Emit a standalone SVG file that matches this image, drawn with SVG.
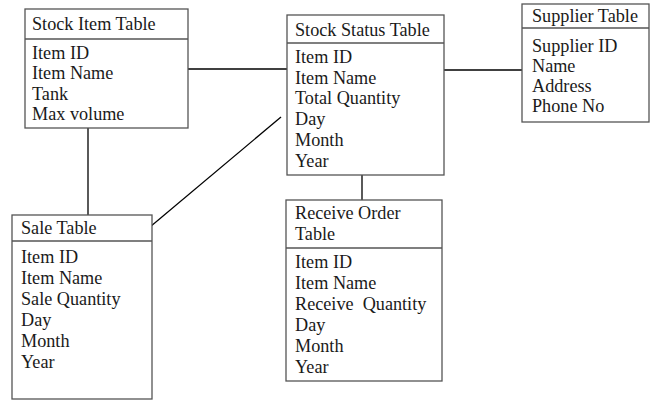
<svg xmlns="http://www.w3.org/2000/svg" width="665" height="400" viewBox="0 0 665 400">
<style>
.box{fill:#fff;stroke:#555;stroke-width:1.3}
.div{stroke:#555;stroke-width:1.3}
.t{font-family:"Liberation Serif","Times New Roman",serif;font-size:18.2px;fill:#1a1a1a}
.c{stroke:#000;stroke-width:1.3;fill:none}
</style>
<rect width="665" height="400" fill="#fff"/>
<g id="connectors">
<line class="c" x1="182" y1="69" x2="288" y2="69"/>
<line class="c" x1="88" y1="123" x2="88" y2="215"/>
<line class="c" x1="144" y1="232" x2="281" y2="117"/>
<line class="c" x1="437" y1="70" x2="523" y2="70"/>
<line class="c" x1="362" y1="169" x2="362" y2="200"/>
</g>
<g id="stock-item-table">
<rect class="box" x="25" y="9" width="163" height="119"/>
<line class="div" x1="25" y1="39" x2="188" y2="39"/>
<text class="t" x="32" y="30">Stock Item Table</text>
<text class="t" x="32" y="59">Item ID</text>
<text class="t" x="32" y="79">Item Name</text>
<text class="t" x="32" y="100">Tank</text>
<text class="t" x="32" y="120">Max volume</text>
</g>
<g id="stock-status-table">
<rect class="box" x="287" y="15" width="157" height="160"/>
<line class="div" x1="287" y1="43" x2="444" y2="43"/>
<text class="t" x="295" y="36">Stock Status Table</text>
<text class="t" x="295" y="63">Item ID</text>
<text class="t" x="295" y="84">Item Name</text>
<text class="t" x="295" y="104">Total Quantity</text>
<text class="t" x="295" y="125">Day</text>
<text class="t" x="295" y="146">Month</text>
<text class="t" x="295" y="167">Year</text>
</g>
<g id="supplier-table">
<rect class="box" x="522" y="4" width="127" height="118"/>
<line class="div" x1="522" y1="28" x2="649" y2="28"/>
<text class="t" x="532" y="22">Supplier Table</text>
<text class="t" x="532" y="52">Supplier ID</text>
<text class="t" x="532" y="72">Name</text>
<text class="t" x="532" y="92">Address</text>
<text class="t" x="532" y="112">Phone No</text>
</g>
<g id="sale-table">
<rect class="box" x="12" y="215" width="140" height="184"/>
<line class="div" x1="12" y1="241" x2="152" y2="241"/>
<text class="t" x="21" y="234">Sale Table</text>
<text class="t" x="21" y="263">Item ID</text>
<text class="t" x="21" y="284">Item Name</text>
<text class="t" x="21" y="305">Sale Quantity</text>
<text class="t" x="21" y="326">Day</text>
<text class="t" x="21" y="347">Month</text>
<text class="t" x="21" y="368">Year</text>
</g>
<g id="receive-order-table">
<rect class="box" x="286" y="200" width="156" height="181"/>
<line class="div" x1="286" y1="248" x2="442" y2="248"/>
<text class="t" x="295" y="219">Receive Order</text>
<text class="t" x="295" y="240">Table</text>
<text class="t" x="295" y="268">Item ID</text>
<text class="t" x="295" y="289">Item Name</text>
<text class="t" x="295" y="310" xml:space="preserve">Receive  Quantity</text>
<text class="t" x="295" y="331">Day</text>
<text class="t" x="295" y="352">Month</text>
<text class="t" x="295" y="373">Year</text>
</g>
</svg>
